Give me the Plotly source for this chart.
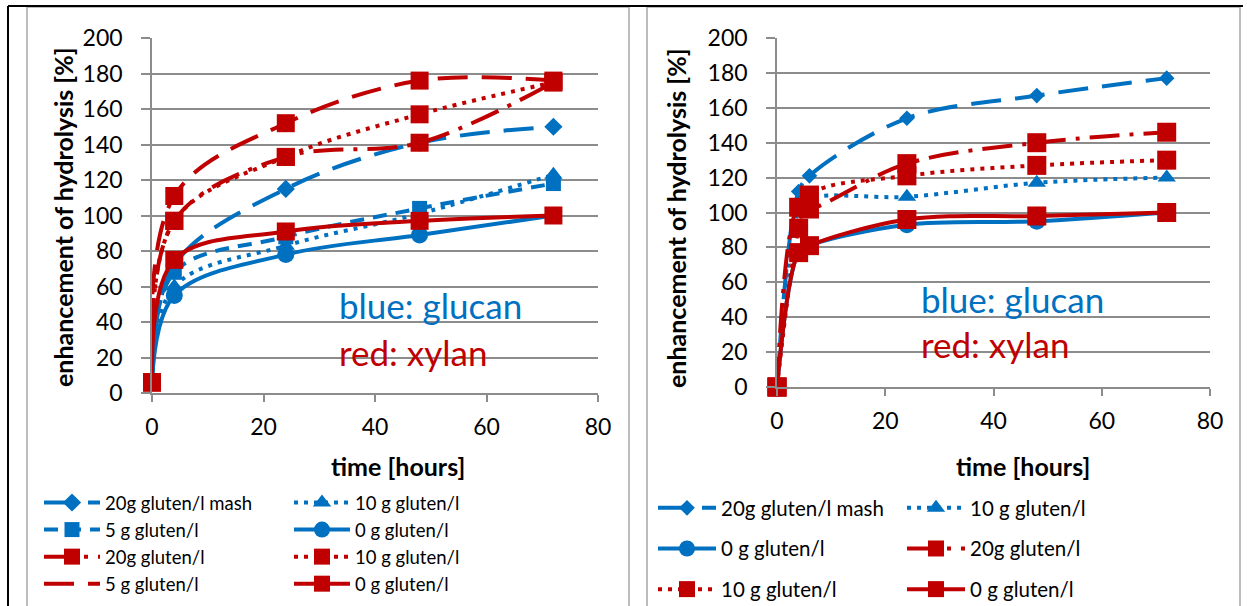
import plotly.graph_objects as go

W, H = 1247, 606
BLUE = "#0070C0"
RED = "#C00000"
GRID = "#8c8c8c"
FONT = "Lato"

# ---------------- data: left panel ----------------
t_left = [0, 4, 24, 48, 72]
left_blue_20_mash = [6, 72, 115, 141, 150]
left_blue_10 = [6, 60, 83, 101, 123]
left_blue_5 = [6, 68, 88, 104, 118]
left_blue_0 = [6, 55, 78, 89, 100]
left_red_20 = [6, 97, 133, 141, 175]
left_red_10 = [6, 97, 133, 157, 175]
left_red_5 = [6, 111, 152, 176, 176]
left_red_0 = [6, 75, 91, 97, 100]

# ---------------- data: right panel ----------------
t_right = [0, 4, 6, 24, 48, 72]
right_blue_20_mash = [0, 112, 121, 154, 167, 177]
right_blue_10 = [0, 101, 108, 109, 117, 120]
right_blue_0 = [0, 77, 81, 93, 95, 100]
right_red_20 = [0, 103, 102, 128, 140, 146]
right_red_10 = [0, 91, 110, 121, 127, 130]
right_red_0 = [0, 77, 81, 96, 98, 100]

x_ticks = [0, 20, 40, 60, 80]
y_ticks = [0, 20, 40, 60, 80, 100, 120, 140, 160, 180, 200]


def fx(p):
    return p / W


def fy(p):
    return 1 - p / H


LONGDASH = "30px,14px"
DASH = "14px,9px"
DOT = "4px,6px"
LONGDASHDOT = "30px,10px,4px,10px"

fig = go.Figure()


def add(x, y, name, color, dash, symbol, size, legend, group, xa, ya,
        show_marker_in_legend=True):
    if show_marker_in_legend:
        fig.add_trace(go.Scatter(
            x=x, y=y, name=name, mode="lines+markers",
            line=dict(color=color, width=4, dash=dash, shape="spline"),
            marker=dict(symbol=symbol, size=size, color=color),
            legend=legend, legendgroup=group, xaxis=xa, yaxis=ya,
            cliponaxis=False))
    else:
        fig.add_trace(go.Scatter(
            x=x, y=y, name=name, mode="lines",
            line=dict(color=color, width=4, dash=dash, shape="spline"),
            legend=legend, legendgroup=group, xaxis=xa, yaxis=ya,
            cliponaxis=False))
        fig.add_trace(go.Scatter(
            x=x, y=y, name=name, mode="markers", showlegend=False,
            marker=dict(symbol=symbol, size=size, color=color),
            legendgroup=group, xaxis=xa, yaxis=ya, cliponaxis=False))


# left panel (legend = col1, legend2 = col2)
add(t_left, left_blue_20_mash, "20g gluten/l mash", BLUE, LONGDASH, "diamond", 14, "legend", "a1", "x", "y")
add(t_left, left_blue_10, "10 g gluten/l", BLUE, DOT, "triangle-up", 16, "legend2", "a2", "x", "y")
add(t_left, left_blue_5, "5 g gluten/l", BLUE, DASH, "square", 15, "legend", "a3", "x", "y")
add(t_left, left_blue_0, "0 g gluten/l", BLUE, "solid", "circle", 17, "legend2", "a4", "x", "y")
add(t_left, left_red_20, "20g gluten/l", RED, LONGDASHDOT, "square", 18, "legend", "a5", "x", "y")
add(t_left, left_red_10, "10 g gluten/l", RED, DOT, "square", 18, "legend2", "a6", "x", "y")
add(t_left, left_red_5, "5 g gluten/l", RED, LONGDASH, "square", 18, "legend", "a7", "x", "y",
    show_marker_in_legend=False)
add(t_left, left_red_0, "0 g gluten/l", RED, "solid", "square", 18, "legend2", "a8", "x", "y")

# right panel (legend3 = col1, legend4 = col2)
add(t_right, right_blue_20_mash, "20g gluten/l mash", BLUE, LONGDASH, "diamond", 12, "legend3", "b1", "x2", "y2")
add(t_right, right_blue_10, "10 g gluten/l", BLUE, DOT, "triangle-up", 16, "legend4", "b2", "x2", "y2")
add(t_right, right_blue_0, "0 g gluten/l", BLUE, "solid", "circle", 17, "legend3", "b3", "x2", "y2")
add(t_right, right_red_20, "20g gluten/l", RED, LONGDASHDOT, "square", 19, "legend4", "b4", "x2", "y2")
add(t_right, right_red_10, "10 g gluten/l", RED, DOT, "square", 19, "legend3", "b5", "x2", "y2")
add(t_right, right_red_0, "0 g gluten/l", RED, "solid", "square", 19, "legend4", "b6", "x2", "y2")

axis_common = dict(
    showline=True, linecolor=GRID, linewidth=1.5, zeroline=False,
    ticks="outside", tickcolor=GRID, tickwidth=1.5,
    tickfont=dict(family=FONT, size=23, color="black"),
)

fig.update_layout(
    width=W, height=H,
    margin=dict(l=0, r=0, t=0, b=0, autoexpand=False),
    paper_bgcolor="white", plot_bgcolor="white",
    font=dict(family=FONT, color="black"),
    xaxis=dict(domain=[fx(152), fx(598)], range=[0, 80], tickvals=x_ticks,
               showgrid=False, ticklen=7, ticklabelstandoff=6, anchor="y", **axis_common),
    yaxis=dict(domain=[fy(393), fy(38)], range=[0, 200], tickvals=y_ticks,
               showgrid=True, gridcolor=GRID, gridwidth=1.5, ticklen=9,
               ticklabelstandoff=14, anchor="x", **axis_common),
    xaxis2=dict(domain=[fx(777), fx(1210)], range=[0, 80], tickvals=x_ticks,
                showgrid=False, ticklen=7, ticklabelstandoff=6, anchor="y2", **axis_common),
    yaxis2=dict(domain=[fy(387), fy(38)], range=[0, 200], tickvals=y_ticks,
                showgrid=True, gridcolor=GRID, gridwidth=1.5, ticklen=9,
                ticklabelstandoff=14, anchor="x2", **axis_common),
)

leg_common = dict(xanchor="left", yanchor="top", bgcolor="rgba(0,0,0,0)",
                  orientation="v", traceorder="grouped")
fig.update_layout(
    legend=dict(x=fx(39), y=fy(484), font=dict(family=FONT, size=18.5), itemwidth=56,
                tracegroupgap=0, **leg_common),
    legend2=dict(x=fx(289), y=fy(484), font=dict(family=FONT, size=18.5), itemwidth=56,
                 tracegroupgap=0, **leg_common),
    legend3=dict(x=fx(653), y=fy(488), font=dict(family=FONT, size=20.5), itemwidth=58,
                 tracegroupgap=11, **leg_common),
    legend4=dict(x=fx(902), y=fy(488), font=dict(family=FONT, size=20.5), itemwidth=58,
                 tracegroupgap=11, **leg_common),
)

ann = []
for xc, yc in [(63, 218), (676, 219)]:
    ann.append(dict(text="<b>enhancement of hydrolysis [%]</b>", x=fx(xc), y=fy(yc),
                    xref="paper", yref="paper", showarrow=False, textangle=-90,
                    xanchor="center", yanchor="middle",
                    font=dict(family=FONT, size=25, color="black")))
for xc in [398, 1023]:
    ann.append(dict(text="<b>time [hours]</b>", x=fx(xc), y=fy(466),
                    xref="paper", yref="paper", showarrow=False,
                    xanchor="center", yanchor="middle",
                    font=dict(family=FONT, size=25, color="black")))
for xl, yb, yr in [(337, 305, 352), (919, 299, 344)]:
    ann.append(dict(text="blue: glucan", x=fx(xl), y=fy(yb), xanchor="left", yanchor="middle",
                    xref="paper", yref="paper", showarrow=False,
                    font=dict(family=FONT, size=35, color=BLUE)))
    ann.append(dict(text="red: xylan", x=fx(xl), y=fy(yr), xanchor="left", yanchor="middle",
                    xref="paper", yref="paper", showarrow=False,
                    font=dict(family=FONT, size=35, color=RED)))
fig.update_layout(annotations=ann)

shapes = [
    dict(type="rect", xref="paper", yref="paper", x0=fx(27), x1=fx(629), y0=fy(640), y1=fy(7),
         line=dict(color="#a6a6a6", width=1.5), layer="below"),
    dict(type="rect", xref="paper", yref="paper", x0=fx(647), x1=fx(1240), y0=fy(640), y1=fy(7),
         line=dict(color="#a6a6a6", width=1.5), layer="below"),
    dict(type="line", xref="paper", yref="paper", x0=fx(8), x1=fx(1243), y0=fy(6), y1=fy(6),
         line=dict(color="black", width=2)),
    dict(type="line", xref="paper", yref="paper", x0=fx(8), x1=fx(8), y0=fy(6), y1=fy(640),
         line=dict(color="black", width=2)),
]
fig.update_layout(shapes=shapes)

fig.write_html("out.html", config={"displayModeBar": False},
               post_script="document.body.style.margin='0px';")
